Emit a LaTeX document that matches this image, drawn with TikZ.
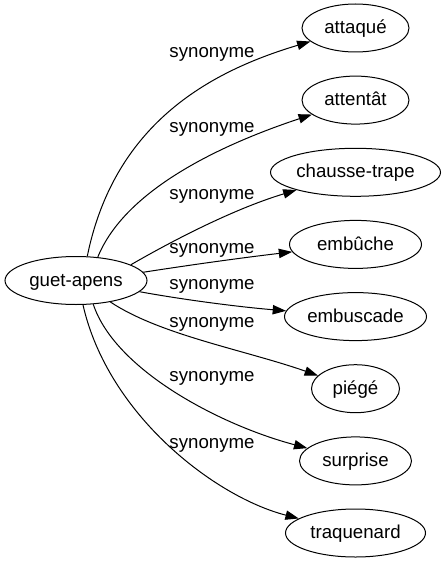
\documentclass[tikz,border=0pt]{standalone}
\usepackage{fontspec}
\setmainfont{Liberation Sans}
\usetikzlibrary{arrows.meta,shapes.geometric}
\begin{document}
\begin{tikzpicture}[x=0.75pt,y=-0.75pt,
  word/.style={draw,ellipse,line width=0.75pt,inner sep=0pt,minimum height=36pt,
    font=\fontsize{14pt}{16pt}\selectfont,text height=10pt,text depth=1.6pt},
  lbl/.style={font=\fontsize{14pt}{16pt}\selectfont,inner sep=0pt},
  syn/.style={line width=0.75pt,-{Triangle[length=10pt,width=7pt]}}]
\useasboundingbox (0,0) rectangle (446,563);
\node[word,minimum width=106.5pt] (g) at (76,280.5) {guet-apens};
\node[word,minimum width=80.25pt] (a1) at (355.5,28) {attaqué};
\node[word,minimum width=80.25pt] (a2) at (355.5,100.1) {attentât};
\node[word,minimum width=127.5pt] (a3) at (355.5,172.3) {chausse-trape};
\node[word,minimum width=99pt] (a4) at (355.5,244.4) {embûche};
\node[word,minimum width=106.5pt] (a5) at (355.5,316.6) {embuscade};
\node[word,minimum width=66pt] (a6) at (355.5,388.7) {piégé};
\node[word,minimum width=84pt] (a7) at (355.5,460.9) {surprise};
\node[word,minimum width=105pt] (a8) at (355.5,533) {traquenard};
\node[lbl] (l1) at (212,54) {synonyme};
\node[lbl] (l2) at (212,129) {synonyme};
\node[lbl] (l3) at (212,196) {synonyme};
\node[lbl] (l4) at (212,250) {synonyme};
\node[lbl] (l5) at (212,286) {synonyme};
\node[lbl] (l6) at (212,324) {synonyme};
\node[lbl] (l7) at (212,378) {synonyme};
\node[lbl] (l8) at (212,445) {synonyme};
\draw[syn] (g.65) .. controls (115,120) and (215,70) .. (a1);
\draw[syn] (g.47) .. controls (125,190) and (220,145) .. (a2);
\draw[syn] (g.16) .. controls (165,245) and (230,210) .. (a3);
\draw[syn] (g.7) .. controls (190,265) and (240,258) .. (a4);
\draw[syn] (g.-10) .. controls (185,300) and (240,307) .. (a5);
\draw[syn] (g.-32) .. controls (160,335) and (245,350) .. (a6);
\draw[syn] (g.-54) .. controls (115,370) and (220,425) .. (a7);
\draw[syn] (g.-74) .. controls (108,415) and (215,497) .. (a8);
\end{tikzpicture}
\end{document}
